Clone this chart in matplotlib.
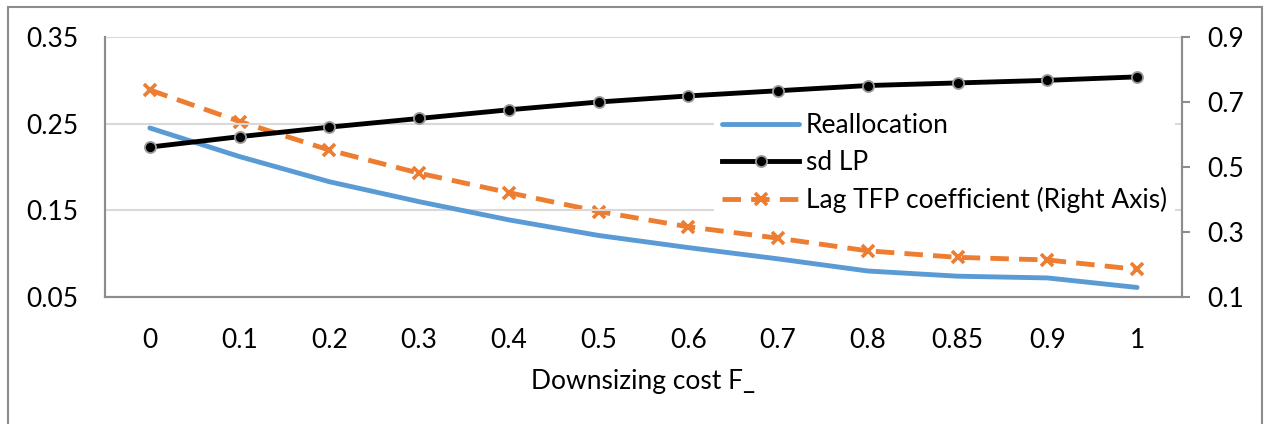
import matplotlib
matplotlib.use("Agg")
import matplotlib.pyplot as plt
from matplotlib.patches import Rectangle

# Data
cost_labels = ["0", "0.1", "0.2", "0.3", "0.4", "0.5", "0.6", "0.7", "0.8", "0.85", "0.9", "1"]
reallocation = [0.245, 0.212, 0.183, 0.160, 0.139, 0.121, 0.107, 0.094, 0.080, 0.074, 0.072, 0.061]
sd_lp = [0.223, 0.235, 0.246, 0.256, 0.266, 0.275, 0.282, 0.288, 0.294, 0.297, 0.300, 0.304]
lag_tfp = [0.737, 0.640, 0.552, 0.481, 0.421, 0.363, 0.316, 0.281, 0.242, 0.222, 0.214, 0.185]

plt.rcParams["font.family"] = ["Lato", "DejaVu Sans"]
FS = 19

W, H = 1265, 424
fig = plt.figure(figsize=(W / 100, H / 100), dpi=100)
ax = fig.add_axes([105 / W, 1 - 297 / H, (1182 - 105) / W, (297 - 37) / H])
ax2 = ax.twinx()

x = list(range(len(cost_labels)))
blue = "#5B9BD5"
orange = "#ED7D31"
axis_gray = "#8C8C8C"

ax.plot(x, reallocation, color=blue, lw=3.5, solid_capstyle="round",
        label="Reallocation", zorder=3)
ax.plot(x, sd_lp, color="black", lw=3.5, marker="o", markersize=8,
        markerfacecolor="black", markeredgecolor="#9a9a9a", markeredgewidth=1.3,
        label="sd LP", zorder=4)
ax2.plot(x, lag_tfp, color=orange, lw=3.5, ls=(0, (3.8, 2.1)), marker="x",
         markersize=9, markeredgewidth=2.6, label="Lag TFP coefficient (Right Axis)",
         zorder=3)

# left axis
ax.set_xlim(-0.5, len(x) - 0.5)
ax.set_ylim(0.05, 0.35)
ax.set_yticks([0.05, 0.15, 0.25, 0.35])
ax.set_yticklabels(["0.05", "0.15", "0.25", "0.35"])
ax.yaxis.grid(True, color="#D9D9D9", lw=1.5)
ax.set_axisbelow(True)
ax.tick_params(axis="y", length=0, pad=19, labelsize=FS)
ax.set_xticks(x)
ax.set_xticklabels(cost_labels)
ax.tick_params(axis="x", length=0, pad=22, labelsize=FS)
ax.set_xlabel("Downsizing cost F_", fontsize=FS, labelpad=12)

# right axis
ax2.set_ylim(0.1, 0.9)
ax2.set_yticks([0.1, 0.3, 0.5, 0.7, 0.9])
ax2.set_yticklabels(["0.1", "0.3", "0.5", "0.7", "0.9"])
ax2.tick_params(axis="y", length=6, width=1.5, color=axis_gray, pad=12, labelsize=FS)

for a in (ax, ax2):
    a.spines["top"].set_visible(False)
    for side in ("left", "right", "bottom"):
        a.spines[side].set_color(axis_gray)
        a.spines[side].set_linewidth(1.5)
ax.set_zorder(ax2.get_zorder() + 1)
ax.patch.set_visible(False)

handles = ax.get_legend_handles_labels()[0] + ax2.get_legend_handles_labels()[0]
labels = [h.get_label() for h in handles]
leg = fig.legend(handles, labels, loc="upper right",
                 bbox_to_anchor=(1175 / W, 1 - 105 / H), fontsize=FS,
                 frameon=True, facecolor="white", edgecolor="none", framealpha=1,
                 handlelength=2.9, handletextpad=0.27, labelspacing=0.45,
                 borderpad=0.3, borderaxespad=0, fancybox=False)
leg.set_zorder(10)

# outer chart border
fig.add_artist(Rectangle((8 / W, -0.1), (1262 - 8) / W, 1.1 - 7 / H,
                         transform=fig.transFigure, fill=False,
                         edgecolor=axis_gray, lw=1.5))

fig.savefig("out.png", dpi=100)
